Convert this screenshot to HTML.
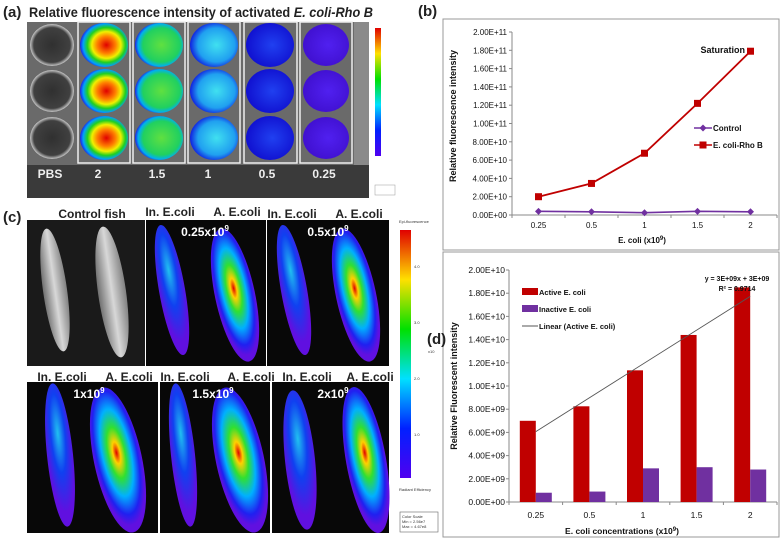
<!DOCTYPE html>
<html><head><meta charset="utf-8">
<style>
body{margin:0;background:#fff;width:781px;height:539px;overflow:hidden;font-family:"Liberation Sans",sans-serif}
svg{position:absolute;left:0;top:0}
</style></head>
<body>
<svg width="781" height="539" viewBox="0 0 781 539" xmlns="http://www.w3.org/2000/svg" font-family="Liberation Sans, sans-serif">
<defs>
<radialGradient id="wRed" cx="55%" cy="50%" r="55%"><stop offset="0" stop-color="#e00000"/><stop offset="0.35" stop-color="#ff8000"/><stop offset="0.55" stop-color="#f0f000"/><stop offset="0.72" stop-color="#20d020"/><stop offset="0.88" stop-color="#00a0ff"/><stop offset="1" stop-color="#2020e0"/></radialGradient>
<radialGradient id="wGreen" cx="55%" cy="50%" r="55%"><stop offset="0" stop-color="#60e040"/><stop offset="0.7" stop-color="#20d060"/><stop offset="0.88" stop-color="#00b0f0"/><stop offset="1" stop-color="#2020e0"/></radialGradient>
<radialGradient id="wCyan" cx="55%" cy="50%" r="55%"><stop offset="0" stop-color="#40e0f0"/><stop offset="0.7" stop-color="#20a0f0"/><stop offset="1" stop-color="#1020e0"/></radialGradient>
<radialGradient id="wBlue" cx="55%" cy="50%" r="55%"><stop offset="0" stop-color="#2040f0"/><stop offset="1" stop-color="#1010d0"/></radialGradient>
<radialGradient id="wViolet" cx="55%" cy="50%" r="55%"><stop offset="0" stop-color="#5020f0"/><stop offset="1" stop-color="#4010d0"/></radialGradient>
<radialGradient id="wPbs" cx="50%" cy="50%" r="55%"><stop offset="0" stop-color="#303030"/><stop offset="0.75" stop-color="#404040"/><stop offset="0.9" stop-color="#c0c0c0"/><stop offset="1" stop-color="#606060"/></radialGradient>
<linearGradient id="cbar" x1="0" y1="1" x2="0" y2="0"><stop offset="0" stop-color="#5000f0"/><stop offset="0.2" stop-color="#0020ff"/><stop offset="0.4" stop-color="#00e0ff"/><stop offset="0.6" stop-color="#00e000"/><stop offset="0.8" stop-color="#ffe000"/><stop offset="1" stop-color="#e00000"/></linearGradient>
<radialGradient id="fishHot" cx="50%" cy="45%" r="50%"><stop offset="0" stop-color="#e00000"/><stop offset="0.15" stop-color="#ffd000"/><stop offset="0.35" stop-color="#30e030"/><stop offset="0.6" stop-color="#00b0ff"/><stop offset="0.85" stop-color="#2020f0"/><stop offset="1" stop-color="#6010e0"/></radialGradient>
<radialGradient id="fishCool" cx="50%" cy="35%" r="55%"><stop offset="0" stop-color="#20c0f0"/><stop offset="0.5" stop-color="#1040f0"/><stop offset="1" stop-color="#6010e0"/></radialGradient>
<linearGradient id="fishGrey" x1="0" y1="0" x2="1" y2="0"><stop offset="0" stop-color="#707070"/><stop offset="0.5" stop-color="#d8d8d8"/><stop offset="1" stop-color="#808080"/></linearGradient>
</defs>

<!-- Panel (a) -->
<g>
<text x="3" y="17" font-size="15" font-weight="bold" fill="#222">(a)</text>
<text x="29" y="17" font-size="14" font-weight="bold" fill="#222" textLength="344" lengthAdjust="spacingAndGlyphs">Relative fluorescence intensity of activated <tspan font-style="italic">E. coli-Rho B</tspan></text>
<rect x="27" y="22" width="342" height="176" fill="#6a6a6a"/>
<rect x="27" y="165" width="342" height="33" fill="#3a3a3a"/>
<rect x="354" y="22" width="15" height="143" fill="#8a8a8a"/>
<g>
<rect x="78" y="22" width="52" height="141" fill="none" stroke="#eee" stroke-width="1.5"/>
<rect x="133" y="22" width="52" height="141" fill="none" stroke="#eee" stroke-width="1.5"/>
<rect x="188" y="22" width="52" height="141" fill="none" stroke="#eee" stroke-width="1.5"/>
<rect x="244" y="22" width="53" height="141" fill="none" stroke="#eee" stroke-width="1.5"/>
<rect x="300" y="22" width="52" height="141" fill="none" stroke="#eee" stroke-width="1.5"/>
<ellipse cx="52" cy="45" rx="22" ry="21" fill="url(#wPbs)"/><ellipse cx="52" cy="91" rx="22" ry="21" fill="url(#wPbs)"/><ellipse cx="52" cy="138" rx="22" ry="21" fill="url(#wPbs)"/>
<ellipse cx="104" cy="45" rx="24" ry="22" fill="url(#wRed)"/><ellipse cx="104" cy="91" rx="24" ry="22" fill="url(#wRed)"/><ellipse cx="104" cy="138" rx="24" ry="22" fill="url(#wRed)"/>
<ellipse cx="159" cy="45" rx="24" ry="22" fill="url(#wGreen)"/><ellipse cx="159" cy="91" rx="24" ry="22" fill="url(#wGreen)"/><ellipse cx="159" cy="138" rx="24" ry="22" fill="url(#wGreen)"/>
<ellipse cx="214" cy="45" rx="24" ry="22" fill="url(#wCyan)"/><ellipse cx="214" cy="91" rx="24" ry="22" fill="url(#wCyan)"/><ellipse cx="214" cy="138" rx="24" ry="22" fill="url(#wCyan)"/>
<ellipse cx="270" cy="45" rx="24" ry="22" fill="url(#wBlue)"/><ellipse cx="270" cy="91" rx="24" ry="22" fill="url(#wBlue)"/><ellipse cx="270" cy="138" rx="24" ry="22" fill="url(#wBlue)"/>
<ellipse cx="326" cy="45" rx="23" ry="21" fill="url(#wViolet)"/><ellipse cx="326" cy="91" rx="23" ry="21" fill="url(#wViolet)"/><ellipse cx="326" cy="138" rx="23" ry="21" fill="url(#wViolet)"/>
</g>
<g font-size="12" font-weight="bold" fill="#eee" text-anchor="middle">
<text x="50" y="178">PBS</text><text x="98" y="178">2</text><text x="157" y="178">1.5</text><text x="208" y="178">1</text><text x="267" y="178">0.5</text><text x="324" y="178">0.25</text>
</g>
<rect x="375" y="28" width="6" height="128" fill="url(#cbar)"/>
<rect x="375" y="185" width="20" height="10" fill="none" stroke="#999" stroke-width="0.5"/>
</g>

<!-- Panel (c) -->
<g>
<text x="3" y="222" font-size="15" font-weight="bold" fill="#222">(c)</text>
<g font-size="12" font-weight="bold" fill="#222" text-anchor="middle">
<text x="92" y="218">Control fish</text>
<text x="170" y="216">In. E.coli</text><text x="237" y="216">A. E.coli</text>
<text x="292" y="218">In. E.coli</text><text x="359" y="218">A. E.coli</text>
<text x="62" y="381">In. E.coli</text><text x="129" y="381">A. E.coli</text>
<text x="185" y="381">In. E.coli</text><text x="251" y="381">A. E.coli</text>
<text x="307" y="381">In. E.coli</text><text x="370" y="381">A. E.coli</text>
</g>
<rect x="27" y="220" width="118" height="146" fill="#1a1a1a"/>
<rect x="146" y="220" width="120" height="146" fill="#080808"/>
<rect x="267" y="220" width="122" height="146" fill="#080808"/>
<rect x="27" y="382" width="131" height="151" fill="#080808"/>
<rect x="160" y="382" width="110" height="151" fill="#080808"/>
<rect x="272" y="382" width="117" height="151" fill="#080808"/>
<ellipse cx="55" cy="290" rx="12" ry="62" fill="url(#fishGrey)" transform="rotate(-8 55 290)"/>
<ellipse cx="112" cy="292" rx="14" ry="66" fill="url(#fishGrey)" transform="rotate(-8 112 292)"/>
<ellipse cx="172" cy="290" rx="13" ry="66" fill="url(#fishCool)" transform="rotate(-10 172 290)"/>
<ellipse cx="235" cy="295" rx="20" ry="68" fill="url(#fishHot)" transform="rotate(-12 235 295)"/>
<ellipse cx="294" cy="290" rx="13" ry="66" fill="url(#fishCool)" transform="rotate(-10 294 290)"/>
<ellipse cx="356" cy="295" rx="20" ry="68" fill="url(#fishHot)" transform="rotate(-12 356 295)"/>
<ellipse cx="60" cy="455" rx="13" ry="72" fill="url(#fishCool)" transform="rotate(-6 60 455)"/>
<ellipse cx="118" cy="460" rx="24" ry="74" fill="url(#fishHot)" transform="rotate(-12 118 460)"/>
<ellipse cx="183" cy="455" rx="12" ry="72" fill="url(#fishCool)" transform="rotate(-6 183 455)"/>
<ellipse cx="240" cy="460" rx="24" ry="74" fill="url(#fishHot)" transform="rotate(-12 240 460)"/>
<ellipse cx="300" cy="460" rx="15" ry="70" fill="url(#fishCool)" transform="rotate(-6 300 460)"/>
<ellipse cx="366" cy="460" rx="20" ry="74" fill="url(#fishHot)" transform="rotate(-10 366 460)"/>
<g font-size="12" font-weight="bold" fill="#fff" text-anchor="middle">
<text x="205" y="236">0.25x10<tspan font-size="8" dy="-5">9</tspan></text>
<text x="328" y="236">0.5x10<tspan font-size="8" dy="-5">9</tspan></text>
<text x="89" y="398">1x10<tspan font-size="8" dy="-5">9</tspan></text>
<text x="213" y="398">1.5x10<tspan font-size="8" dy="-5">9</tspan></text>
<text x="333" y="398">2x10<tspan font-size="8" dy="-5">9</tspan></text>
</g>
<rect x="400" y="230" width="11" height="248" fill="url(#cbar)"/>
<g font-size="4" fill="#333"><text x="399" y="223">Epi-fluorescence</text><text x="414" y="268">4.0</text><text x="414" y="324">3.0</text><text x="428" y="353">x10</text><text x="414" y="380">2.0</text><text x="414" y="436">1.0</text><text x="399" y="491">Radiant Efficiency</text></g>
<rect x="400" y="512" width="38" height="20" fill="#fff" stroke="#666" stroke-width="0.6"/>
<g font-size="4" fill="#333"><text x="402" y="518">Color Scale</text><text x="402" y="523">Min = 2.56e7</text><text x="402" y="528">Max = 4.67e8</text></g>
</g>

<!-- Panel (b) -->
<text x="418" y="16" font-size="15" font-weight="bold" fill="#222">(b)</text>
<rect x="443" y="19" width="336" height="231" fill="#fff" stroke="#999" stroke-width="1"/>
<g id="chartB"></g>
<text x="642" y="243" font-size="8" font-weight="bold" text-anchor="middle" fill="#111">E. coli (x10<tspan font-size="6" dy="-3">9</tspan><tspan dy="3">)</tspan></text>
<text transform="translate(456 116) rotate(-90)" font-size="9" font-weight="bold" text-anchor="middle" fill="#111">Relative fluorescence intensity</text>
<text x="745" y="53" font-size="9" font-weight="bold" text-anchor="end" fill="#111">Saturation</text>
<g font-size="8" font-weight="bold" fill="#111">
<line x1="694" y1="128" x2="712" y2="128" stroke="#7030a0" stroke-width="1.5"/><path d="M703 124.5 L706.5 128 L703 131.5 L699.5 128Z" fill="#7030a0"/><text x="713" y="131">Control</text>
<line x1="694" y1="145" x2="712" y2="145" stroke="#c00000" stroke-width="1.5"/><rect x="699.5" y="141.5" width="7" height="7" fill="#c00000"/><text x="713" y="148">E. coli-Rho B</text>
</g>

<!-- Panel (d) -->
<rect x="443" y="252" width="336" height="285" fill="#fff" stroke="#999" stroke-width="1"/>
<text x="427" y="344" font-size="15" font-weight="bold" fill="#222">(d)</text>
<g id="chartD"></g>
<text x="622" y="534" font-size="8.5" font-weight="bold" text-anchor="middle" fill="#111">E. coli concentrations (x10<tspan font-size="6" dy="-3">9</tspan><tspan dy="3">)</tspan></text>
<text transform="translate(457 386) rotate(-90)" font-size="9" font-weight="bold" text-anchor="middle" fill="#111">Relative Fluorescent intensity</text>
<g font-size="7" font-weight="bold" fill="#111" text-anchor="middle">
<text x="737" y="281">y = 3E+09x + 3E+09</text><text x="737" y="291">R² = 0.9714</text>
</g>
<g font-size="7.5" font-weight="bold" fill="#111">
<rect x="522" y="288" width="16" height="7" fill="#c00000"/><text x="539" y="295">Active E. coli</text>
<rect x="522" y="305" width="16" height="7" fill="#7030a0"/><text x="539" y="312">Inactive E. coli</text>
<line x1="522" y1="326" x2="538" y2="326" stroke="#555" stroke-width="1"/><text x="539" y="329">Linear (Active E. coli)</text>
</g>
</svg>
<script>
const NS="http://www.w3.org/2000/svg";
function mk(p,tag,attrs){const e=document.createElementNS(NS,tag);for(const k in attrs)e.setAttribute(k,attrs[k]);p.appendChild(e);return e;}

// Chart (b) data
const bCategories=["0.25","0.5","1","1.5","2"];
const bControl=[4.0e9,3.5e9,2.5e9,4.0e9,3.5e9];
const bRhoB=[2.0e10,3.45e10,6.75e10,1.22e11,1.79e11];
const bTicks=["0.00E+00","2.00E+10","4.00E+10","6.00E+10","8.00E+10","1.00E+11","1.20E+11","1.40E+11","1.60E+11","1.80E+11","2.00E+11"];

// Chart (d) data
const dCategories=["0.25","0.5","1","1.5","2"];
const dActive=[7.0e9,8.25e9,1.135e10,1.44e10,1.85e10];
const dInactive=[8.0e8,9.0e8,2.9e9,3.0e9,2.8e9];
const dTicks=["0.00E+00","2.00E+09","4.00E+09","6.00E+09","8.00E+09","1.00E+10","1.20E+10","1.40E+10","1.60E+10","1.80E+10","2.00E+10"];

(function(){
 const g=document.getElementById('chartB');
 const x0=512,x1=777,yTop=32,yBot=215,max=2e11;
 const y=v=>yBot-(v/max)*(yBot-yTop);
 const step=(x1-x0)/bCategories.length;
 const x=i=>x0+step*(i+0.5);
 mk(g,'line',{x1:x0,y1:yTop,x2:x0,y2:yBot,stroke:'#888','stroke-width':1});
 mk(g,'line',{x1:x0,y1:yBot,x2:x1,y2:yBot,stroke:'#888','stroke-width':1});
 bTicks.forEach((t,i)=>{const v=i*2e10;const yy=y(v);
  mk(g,'line',{x1:x0-3,y1:yy,x2:x0,y2:yy,stroke:'#888'});
  const tx=mk(g,'text',{x:x0-5,y:yy+3,'font-size':'8','text-anchor':'end',fill:'#111'});tx.textContent=t;
  
  });
 for(let i=0;i<=bCategories.length;i++){mk(g,'line',{x1:x0+step*i,y1:yBot,x2:x0+step*i,y2:yBot+3,stroke:'#888'});}
 bCategories.forEach((c,i)=>{const tx=mk(g,'text',{x:x(i),y:yBot+13,'font-size':'8','text-anchor':'middle',fill:'#111'});tx.textContent=c;
  
  });
 const pc=mk(g,'polyline',{points:bControl.map((v,i)=>x(i)+','+y(v)).join(' '),fill:'none',stroke:'#7030a0','stroke-width':1.6});
 
 
 const pr=mk(g,'polyline',{points:bRhoB.map((v,i)=>x(i)+','+y(v)).join(' '),fill:'none',stroke:'#c00000','stroke-width':1.8});
 
 
 bControl.forEach((v,i)=>{const p=mk(g,'path',{d:`M${x(i)} ${y(v)-3.5} L${x(i)+3.5} ${y(v)} L${x(i)} ${y(v)+3.5} L${x(i)-3.5} ${y(v)}Z`,fill:'#7030a0'});
  
  });
 bRhoB.forEach((v,i)=>{const r=mk(g,'rect',{x:x(i)-3.5,y:y(v)-3.5,width:7,height:7,fill:'#c00000'});
  
  });
})();

(function(){
 const g=document.getElementById('chartD');
 const x0=509,x1=777,yTop=270,yBot=502,max=2e10;
 const y=v=>yBot-(v/max)*(yBot-yTop);
 const step=(x1-x0)/dCategories.length;
 const cx=i=>x0+step*(i+0.5);
 const bw=16;
 mk(g,'line',{x1:x0,y1:yTop,x2:x0,y2:yBot,stroke:'#888'});
 mk(g,'line',{x1:x0,y1:yBot,x2:x1,y2:yBot,stroke:'#888'});
 dTicks.forEach((t,i)=>{const yy=y(i*2e9);
  mk(g,'line',{x1:x0-3,y1:yy,x2:x0,y2:yy,stroke:'#888'});
  const tx=mk(g,'text',{x:x0-4,y:yy+3,'font-size':'8.5','text-anchor':'end',fill:'#111'});tx.textContent=t;
  
  });
 for(let i=0;i<=dCategories.length;i++){mk(g,'line',{x1:x0+step*i,y1:yBot,x2:x0+step*i,y2:yBot+3,stroke:'#888'});}
 dCategories.forEach((c,i)=>{const tx=mk(g,'text',{x:cx(i),y:yBot+16,'font-size':'8.5','text-anchor':'middle',fill:'#111'});tx.textContent=c;
  
  });
 dActive.forEach((v,i)=>{const r=mk(g,'rect',{x:cx(i)-bw,y:y(v),width:bw,height:yBot-y(v),fill:'#c00000'});
  
  });
 dInactive.forEach((v,i)=>{const r=mk(g,'rect',{x:cx(i),y:y(v),width:bw,height:yBot-y(v),fill:'#7030a0'});
  
  });
 const n=dActive.length;let sx=0,sy=0,sxy=0,sxx=0;
 dActive.forEach((v,i)=>{const xi=i+1;sx+=xi;sy+=v;sxy+=xi*v;sxx+=xi*xi;});
 const m=(n*sxy-sx*sy)/(n*sxx-sx*sx),b=(sy-m*sx)/n;
 const tl=mk(g,'line',{x1:cx(0),y1:y(m*1+b),x2:cx(n-1),y2:y(m*n+b),stroke:'#555','stroke-width':0.9});
 
 
})();
</script>
</body></html>
